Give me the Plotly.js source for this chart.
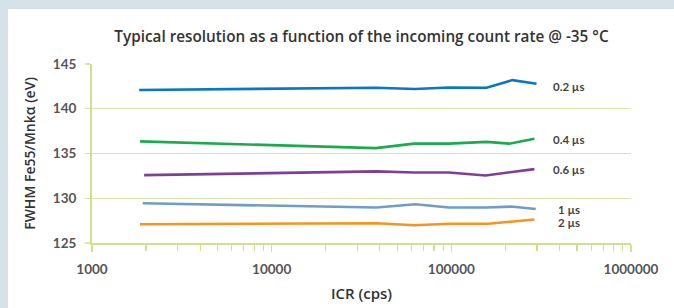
<!DOCTYPE html>
<html><head><meta charset="utf-8">
<script src="https://cdn.plot.ly/plotly-3.0.1.min.js"></script>
<style>
html,body{margin:0;padding:0;background:#d6e2e9;}
#wrap{position:absolute;left:8px;top:9px;width:666px;height:299px;background:#fff;}
#chart{position:absolute;left:0;top:0;width:674px;height:308px;}
</style></head>
<body><div id="wrap"></div><div id="chart"></div>
<script>
const seriesNames = ['0.2 µs','0.4 µs','0.6 µs','1 µs','2 µs'];
const x02 = [1830, 38400, 62700, 97000, 157000, 219000, 298000];
const y02 = [142.1, 142.35, 142.2, 142.38, 142.35, 143.2, 142.8];
const x04 = [1850, 38000, 62000, 97000, 157000, 210000, 290000];
const y04 = [136.35, 135.6, 136.1, 136.1, 136.3, 136.1, 136.65];
const x06 = [1950, 38400, 62000, 97000, 155000, 290000];
const y06 = [132.58, 133.0, 132.88, 132.88, 132.55, 133.25];
const x1 = [1915, 38400, 63000, 97000, 157000, 215000, 295000];
const y1 = [129.44, 128.96, 129.33, 128.96, 128.96, 129.07, 128.8];
const x2 = [1850, 38400, 62700, 97000, 160000, 290000];
const y2 = [127.1, 127.2, 126.98, 127.15, 127.15, 127.62];
const labelY = [142.54, 136.57, 133.25, 128.74, 127.28];
const xTicks = [1000, 10000, 100000, 1000000];
const xTickText = ['1000','10000','100000','1000000'];
const yTicks = [125, 130, 135, 140, 145];

const colors = ['#0a77c5','#1bab4c','#7f3f98','#6f9dc7','#f7941d'];
const xs = [x02, x04, x06, x1, x2];
const ys = [y02, y04, y06, y1, y2];
const font = 'Lato, "Open Sans", sans-serif';
const tfont = '"Open Sans", sans-serif';
const traces = xs.map((x,i)=>({x:x, y:ys[i], type:'scatter', mode:'lines', name:seriesNames[i],
  line:{color:colors[i], width:2.6}, hoverinfo:'skip'}));
const annotations = seriesNames.map((n,i)=>({xref:'paper', yref:'y', x:0.885, y:labelY[i], text:n,
  showarrow:false, xanchor:'center', yanchor:'middle', font:{family:font, size:11.5, color:'#444', weight:700}}));
const gridC = '#dbe5a6';
const axC = '#d3df8f';
const layout = {
  width:674, height:308, paper_bgcolor:'rgba(0,0,0,0)', plot_bgcolor:'rgba(0,0,0,0)',
  margin:{l:92, r:43, t:64, b:65.3}, showlegend:false,
  title:{text:'Typical resolution as a function of the incoming count rate @ -35 °C', x:0.5363, xanchor:'center', y:0.88, yanchor:'middle',
    font:{family:tfont, size:15.3, color:'#333', weight:600}},
  xaxis:{type:'log', range:[3,6], tickvals:xTicks, ticktext:xTickText, showgrid:false, zeroline:false,
    showline:true, linecolor:axC, linewidth:2, ticks:'outside', ticklen:7, tickwidth:1.5, tickcolor:axC,
    minor:{ticks:'outside', ticklen:6, tickwidth:1.2, tickcolor:axC, dtick:'D1', showgrid:false},
    ticklabelstandoff:6, tickfont:{family:font, size:13.5, color:'#555', weight:700},
    title:{text:'ICR (cps)', standoff:12, font:{family:tfont, size:15, color:'#333', weight:600}}},
  xaxis2:{type:'log', range:[3,6], overlaying:'x', side:'bottom', tickvals:xTicks, showticklabels:false, showgrid:false,
    zeroline:false, showline:false, ticks:'inside', ticklen:4, tickwidth:1.5, tickcolor:axC},
  yaxis:{range:[125,145], tickvals:yTicks, showgrid:true, gridcolor:gridC, gridwidth:1.3, zeroline:false,
    showline:true, linecolor:axC, linewidth:2, ticks:'outside', ticklen:5, tickcolor:gridC, tickwidth:1.3,
    ticklabelstandoff:6, tickfont:{family:font, size:13.5, color:'#555', weight:700},
    title:{text:'FWHM Fe55/Mnkα (eV)', standoff:14, font:{family:tfont, size:14, color:'#333', weight:600}}},
  annotations:annotations
};
Plotly.newPlot('chart', traces, layout, {displayModeBar:false, staticPlot:true});
</script></body></html>
